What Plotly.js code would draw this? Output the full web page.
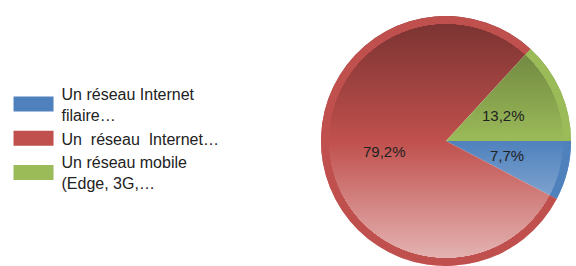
<!DOCTYPE html>
<html>
<head>
<meta charset="utf-8">
<script src="https://cdn.plot.ly/plotly-3.0.1.min.js"></script>
<style>
html,body{margin:0;padding:0;background:#fff;}
#chart{width:576px;height:266px;}
</style>
</head>
<body>
<div id="chart"></div>
<script>
const categories = [
  "Un réseau Internet<br>filaire…",
  "Un  réseau  Internet…",
  "Un réseau mobile<br>(Edge, 3G,…"
];
const shares = [7.7, 79.2, 13.2];
const sliceColors = ["#4f81bd", "#c0504d", "#9bbb59"];

const W = 576, H = 266;
const domX = [320 / W, 572 / W];
const domY = [0, 250 / H];

const total = shares.reduce((a, b) => a + b, 0);
const Rpx = Math.min((domX[1] - domX[0]) * W, (domY[1] - domY[0]) * H) / 2;
const cxP = (domX[0] + domX[1]) / 2, cyP = (domY[0] + domY[1]) / 2;
let cum = 0;
const annotations = shares.map(v => {
  const a = (cum + v / 2) / total * 2 * Math.PI;
  cum += v;
  const r = 0.5 * Rpx;
  return {
    xref: "paper", yref: "paper",
    x: cxP + r * Math.cos(a) / W,
    y: cyP - r * Math.sin(a) / H,
    text: v.toFixed(1).replace(".", ",") + "%",
    showarrow: false,
    xanchor: "center", yanchor: "middle",
    font: {family: "Liberation Sans, Arial, sans-serif", size: 15, color: "#222222"}
  };
});

const trace = {
  type: "pie",
  labels: categories,
  values: shares,
  sort: false,
  direction: "clockwise",
  rotation: 90,
  marker: {colors: sliceColors, line: {width: 0}},
  textinfo: "none",
  hoverinfo: "none",
  domain: {x: domX, y: domY}
};

const layout = {
  width: W, height: H,
  margin: {l: 0, r: 0, t: 0, b: 0},
  paper_bgcolor: "#ffffff",
  showlegend: true,
  annotations: annotations,
  legend: {
    x: 0.02, y: 0.48, xanchor: "left", yanchor: "middle",
    font: {family: "Liberation Sans, Arial, sans-serif", size: 16, color: "#222222"},
    tracegroupgap: 0, itemwidth: 40
  }
};

function shade(hex, f) {
  const n = parseInt(hex.slice(1), 16);
  let c = [(n >> 16) & 255, (n >> 8) & 255, n & 255];
  c = c.map(x => f < 0 ? Math.round(x * (1 + f)) : Math.round(x + (255 - x) * f));
  return "rgb(" + c.join(",") + ")";
}

const ns = "http://www.w3.org/2000/svg";
function ensureDefs(svg, cx, cy, R) {
  if (svg.querySelector("defs.deco")) return;
  const defs = document.createElementNS(ns, "defs");
  defs.setAttribute("class", "deco");
  svg.insertBefore(defs, svg.firstChild);
  sliceColors.forEach((base, i) => {
    const lg = document.createElementNS(ns, "linearGradient");
    lg.setAttribute("id", "lg" + i);
    lg.setAttribute("gradientUnits", "userSpaceOnUse");
    lg.setAttribute("x1", String(cx)); lg.setAttribute("x2", String(cx));
    lg.setAttribute("y1", String(cy - R)); lg.setAttribute("y2", String(cy + R));
    [[0, shade(base, -0.38)], [0.5, base], [1, shade(base, 0.6)]].forEach(([o, c]) => {
      const s = document.createElementNS(ns, "stop");
      s.setAttribute("offset", String(o)); s.setAttribute("stop-color", c);
      lg.appendChild(s);
    });
    defs.appendChild(lg);
    const rg = document.createElementNS(ns, "radialGradient");
    rg.setAttribute("id", "rg" + i);
    rg.setAttribute("gradientUnits", "userSpaceOnUse");
    rg.setAttribute("cx", String(cx)); rg.setAttribute("cy", String(cy)); rg.setAttribute("r", String(R));
    rg.setAttribute("fx", String(cx)); rg.setAttribute("fy", String(cy));
    [[0, 0], [0.935, 0], [0.937, 1], [1, 1]].forEach(([o, op]) => {
      const s = document.createElementNS(ns, "stop");
      s.setAttribute("offset", String(o)); s.setAttribute("stop-color", base); s.setAttribute("stop-opacity", String(op));
      rg.appendChild(s);
    });
    defs.appendChild(rg);
  });
}

const LEG_D = "M-23,-7.5H17V7.5H-23Z";
function decorate() {
  try {
    const gd = document.getElementById("chart");
    const cd0 = (gd.calcdata && gd.calcdata[0] && gd.calcdata[0][0]) || {};
    const cx = isFinite(cd0.cx) ? cd0.cx : cxP * W;
    const cy = isFinite(cd0.cy) ? cd0.cy : H - cyP * H;
    const R = isFinite(cd0.r) ? cd0.r : Rpx;
    const paths = gd.querySelectorAll("g.slice path.surface");
    paths.forEach((p, i) => {
      if ((p.style.fill || "").indexOf("url") >= 0) return;
      ensureDefs(p.ownerSVGElement, cx, cy, R);
      p.parentNode.querySelectorAll("path.ring").forEach(o => o.remove());
      const ring = p.cloneNode(false);
      p.style.fill = "url(#lg" + i + ")";
      ring.style.fill = "url(#rg" + i + ")";
      ring.setAttribute("class", "ring");
      p.parentNode.insertBefore(ring, p.nextSibling);
    });
    gd.querySelectorAll("path.legendpie").forEach(p => {
      if (p.getAttribute("d") !== LEG_D) p.setAttribute("d", LEG_D);
    });
  } catch (e) {
    console.error("decorate failed: " + e.message);
  }
}

const gdEl = document.getElementById("chart");
Plotly.newPlot(gdEl, [trace], layout, {displayModeBar: false, staticPlot: true})
  .then(() => { decorate(); setTimeout(decorate, 0); setTimeout(decorate, 60); })
  .catch(e => console.error(e));
</script>
</body>
</html>
